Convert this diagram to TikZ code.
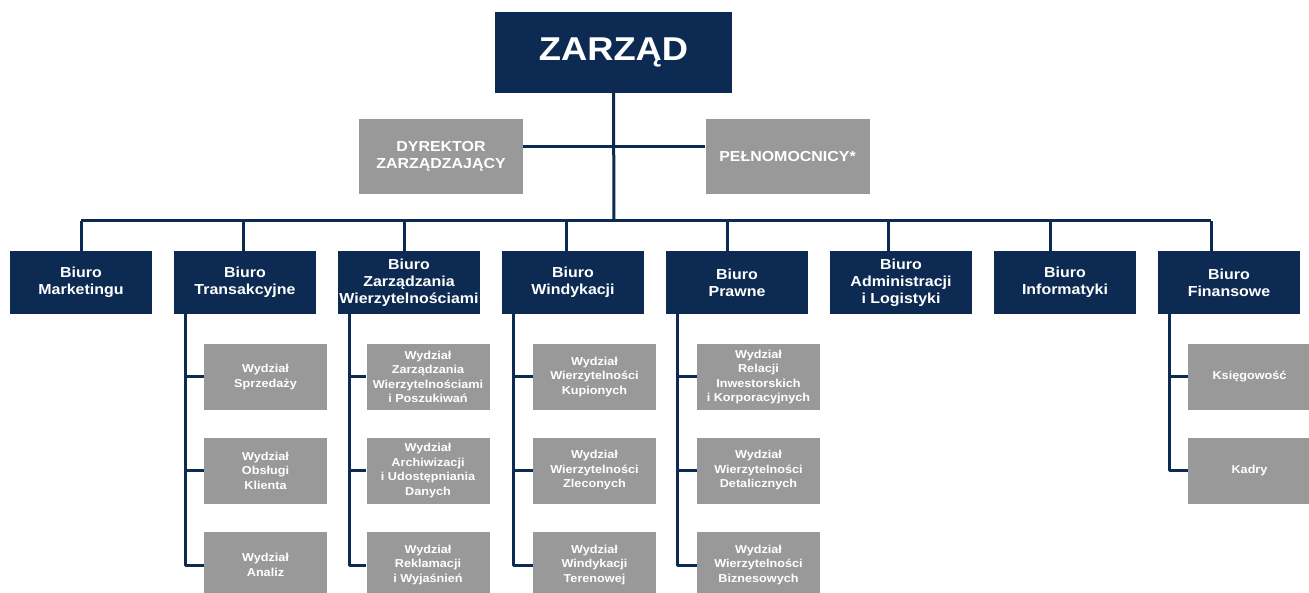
\documentclass[tikz,border=0pt]{standalone}
\usepackage{fontspec}
\setmainfont{Liberation Sans}[FakeStretch=1.1]
\definecolor{granat}{HTML}{0D2B52}
\definecolor{szary}{HTML}{999999}
\begin{document}
\begin{tikzpicture}[x=1pt, y=-1pt, line join=round,
 linia/.style={draw=granat, line width=3pt},
 zarzad/.style={fill=granat, text=white, inner sep=0pt, minimum width=237pt, minimum height=81pt, font=\bfseries\fontsize{33}{38}\selectfont},
 gora/.style={fill=szary, text=white, inner sep=0pt, align=center, minimum width=164pt, minimum height=75pt, font=\bfseries\fontsize{14.5}{17}\selectfont},
 biuro/.style={fill=granat, text=white, inner sep=0pt, align=center, minimum width=142pt, minimum height=63pt, font=\bfseries\fontsize{14.5}{17}\selectfont},
 wydzial/.style={fill=szary, text=white, inner sep=0pt, align=center, minimum width=123pt, minimum height=66pt, font=\bfseries\fontsize{11.5}{14.5}\selectfont}]
 \useasboundingbox (0,0) rectangle (1309,593);
 \fill[white] (0,0) rectangle (1309,593);
 \clip (0,0) rectangle (1309,593);
 % gora
 \path
 (613.5,52.5) node[zarzad] (zarzad) {ZARZĄD}
 (441,156.5) node[gora] (dyr) {DYREKTOR\\ZARZĄDZAJĄCY}
 (787.5,156.5) node[gora] (pel) {PEŁNOMOCNICY*};
 \coordinate (pion) at (614,147);
 \coordinate (busM) at (614,221);
 \coordinate (busL) at (81,221);
 \coordinate (busR) at (1211,221);
 \draw[linia] (zarzad.south) -- (busM);
 \draw[linia] (dyr.east |- pion) -- (pel.west |- pion);
 \draw[linia] (busL) -- (busR);
 % biura
 \path
 (81,282.5) node[biuro] (b1) {Biuro\\Marketingu}
 (245,282.5) node[biuro] (b2) {Biuro\\Transakcyjne}
 (409,282.5) node[biuro] (b3) {Biuro\\Zarządzania\\Wierzytelnościami}
 (573,282.5) node[biuro] (b4) {Biuro\\Windykacji}
 (737,282.5) node[biuro] (b5) {Biuro\\Prawne}
 (901,282.5) node[biuro] (b6) {Biuro\\Administracji\\i Logistyki}
 (1065,282.5) node[biuro] (b7) {Biuro\\Informatyki}
 (1229,282.5) node[biuro] (b8) {Biuro\\Finansowe};
 \foreach \i/\x in {1/81,2/243,3/404,4/566,5/727,6/888,7/1050,8/1211}{
 \coordinate (t\i) at (\x,221);
 \draw[linia] (t\i) -- (t\i |- b\i.north);
 }
 % wydzialy
 \path
 (265.5,377) node[wydzial] (w21) {Wydział\\Sprzedaży}
 (265.5,470.5) node[wydzial] (w22) {Wydział\\Obsługi\\Klienta}
 (265.5,565) node[wydzial] (w23) {Wydział\\Analiz}
 (428,377) node[wydzial] (w31) {Wydział\\Zarządzania\\Wierzytelnościami\\i Poszukiwań}
 (428,470.5) node[wydzial] (w32) {Wydział\\Archiwizacji\\i Udostępniania\\Danych}
 (428,565) node[wydzial] (w33) {Wydział\\Reklamacji\\i Wyjaśnień}
 (594.5,377) node[wydzial] (w41) {Wydział\\Wierzytelności\\Kupionych}
 (594.5,470.5) node[wydzial] (w42) {Wydział\\Wierzytelności\\Zleconych}
 (594.5,565) node[wydzial] (w43) {Wydział\\Windykacji\\Terenowej}
 (758.5,377) node[wydzial] (w51) {Wydział\\Relacji\\Inwestorskich\\i Korporacyjnych}
 (758.5,470.5) node[wydzial] (w52) {Wydział\\Wierzytelności\\Detalicznych}
 (758.5,565) node[wydzial] (w53) {Wydział\\Wierzytelności\\Biznesowych}
 (1249.5,377) node[wydzial] (w81) {Księgowość}
 (1249.5,470.5) node[wydzial] (w82) {Kadry};
 \foreach \b/\k in {2/3,3/3,4/3,5/3,8/2}{
 \coordinate (p\b) at ([xshift=-60pt]b\b.south);
 \draw[linia] (p\b) |- (w\b\k.west);
 \draw[linia] (w\b1.west) -- (w\b1.west -| p\b);
 }
 \foreach \b in {2,3,4,5}
 \draw[linia] (w\b2.west) -- (w\b2.west -| p\b);
\end{tikzpicture}
\end{document}
